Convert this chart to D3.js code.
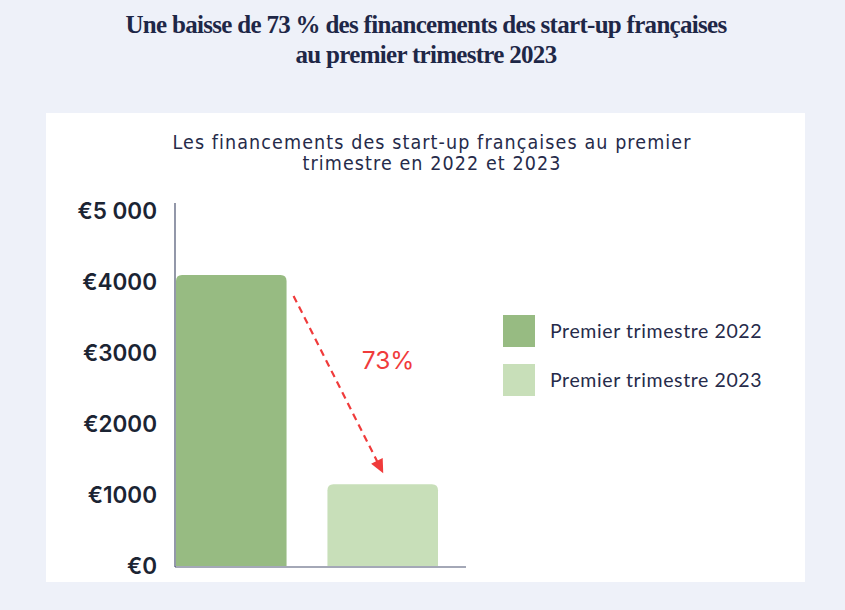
<!DOCTYPE html>
<html><head><meta charset="utf-8">
<script src="https://cdn.jsdelivr.net/npm/d3@7"></script>
<style>html,body{margin:0;padding:0;background:#eef1f9;}</style>
</head><body>
<svg id="c" width="845" height="610"></svg>
<script>
const categories = ["Premier trimestre 2022", "Premier trimestre 2023"];
const values = [4100, 1150];
const yTicks = [0, 1000, 2000, 3000, 4000, 5000];
const tickLabels = ["€0", "€1000", "€2000", "€3000", "€4000", "€5 000"];
const titleLines = ["Une baisse de 73 % des financements des start-up françaises", "au premier trimestre 2023"];
const subtitleLines = ["Les financements des start-up françaises au premier", "trimestre en 2022 et 2023"];
const colors = ["#97bb82", "#c8dfb9"];
const dropLabel = "73%";

const svg = d3.select("#c");
svg.append("rect").attr("width", 845).attr("height", 610).attr("fill", "#eef1f9");
svg.append("rect").attr("x", 46).attr("y", 113).attr("width", 759).attr("height", 469).attr("fill", "#ffffff");

svg.selectAll("text.title").data(titleLines).join("text")
  .attr("x", 426).attr("y", (d, i) => 33 + i * 30)
  .attr("text-anchor", "middle")
  .attr("font-family", "Liberation Serif, serif").attr("font-weight", "bold")
  .attr("font-size", 25).attr("letter-spacing", -0.7).attr("fill", "#1e2747")
  .text(d => d);

svg.selectAll("text.sub").data(subtitleLines).join("text")
  .attr("x", 432).attr("y", (d, i) => 149 + i * 21)
  .attr("text-anchor", "middle")
  .attr("font-family", "DejaVu Sans Condensed, sans-serif")
  .attr("font-size", 19.5).attr("letter-spacing", 1.1).attr("fill", "#262b4a")
  .text(d => d);

const y = d3.scaleLinear().domain([0, 5000]).range([566, 211]);
const x = d3.scaleBand().domain(categories).range([176, 438]).paddingInner(0.27).paddingOuter(0);

// bars with rounded top
const r = 6;
svg.selectAll("path.bar").data(values).join("path")
  .attr("fill", (d, i) => colors[i])
  .attr("d", (d, i) => {
    const x0 = x(categories[i]), w = x.bandwidth(), y0 = y(d), yb = y(0);
    return `M${x0},${yb} V${y0 + r} Q${x0},${y0} ${x0 + r},${y0} H${x0 + w - r} Q${x0 + w},${y0} ${x0 + w},${y0 + r} V${yb} Z`;
  });

// axes lines
svg.append("line").attr("x1", 175).attr("x2", 175).attr("y1", 203).attr("y2", 567).attr("stroke", "#4a5270").attr("stroke-width", 1.2);
svg.append("line").attr("x1", 175).attr("x2", 466).attr("y1", 567).attr("y2", 567).attr("stroke", "#4a5270").attr("stroke-width", 1.2);

svg.selectAll("text.tick").data(yTicks).join("text")
  .attr("x", 157).attr("y", d => y(d)).attr("dy", "0.36em")
  .attr("text-anchor", "end")
  .attr("font-family", "Inter, sans-serif").attr("font-weight", 600)
  .attr("font-size", 22.5).attr("letter-spacing", 0).attr("fill", "#1b2433")
  .text((d, i) => tickLabels[i]);

// arrow
const ax0 = x(categories[0]) + x.bandwidth() + 7, ay0 = y(values[0]) + 21;
const ax1 = x(categories[1]) + x.bandwidth() / 2 + 0.5, ay1 = y(values[1]) - 11;
const ang = Math.atan2(ay1 - ay0, ax1 - ax0);
const L = 14, W = 6.5;
const bx = ax1 - L * Math.cos(ang), by = ay1 - L * Math.sin(ang);
svg.append("line").attr("x1", ax0).attr("y1", ay0).attr("x2", bx + 2 * Math.cos(ang)).attr("y2", by + 2 * Math.sin(ang))
  .attr("stroke", "#f03b3b").attr("stroke-width", 2.2).attr("stroke-dasharray", "7,5");
svg.append("path")
  .attr("d", () => {
    const px = -Math.sin(ang) * W, py = Math.cos(ang) * W;
    return `M${ax1},${ay1} L${bx + px},${by + py} L${bx - px},${by - py} Z`;
  })
  .attr("fill", "#f03b3b");
svg.append("text").attr("x", 388).attr("y", 369).attr("text-anchor", "middle")
  .attr("font-family", "Inter, sans-serif").attr("font-size", 24.5).attr("fill", "#f03b3b")
  .text(dropLabel);

// legend
const lg = svg.append("g");
lg.selectAll("rect").data(categories).join("rect")
  .attr("x", 503).attr("y", (d, i) => 315 + i * 49).attr("width", 32).attr("height", 32)
  .attr("fill", (d, i) => colors[i]);
lg.selectAll("text").data(categories).join("text")
  .attr("x", 550).attr("y", (d, i) => 331 + i * 49).attr("dy", "0.36em")
  .attr("font-family", "Lato, sans-serif").attr("font-size", 19.5).attr("letter-spacing", 0.6).attr("fill", "#262b4a")
  .text(d => d);
</script>
</body></html>
